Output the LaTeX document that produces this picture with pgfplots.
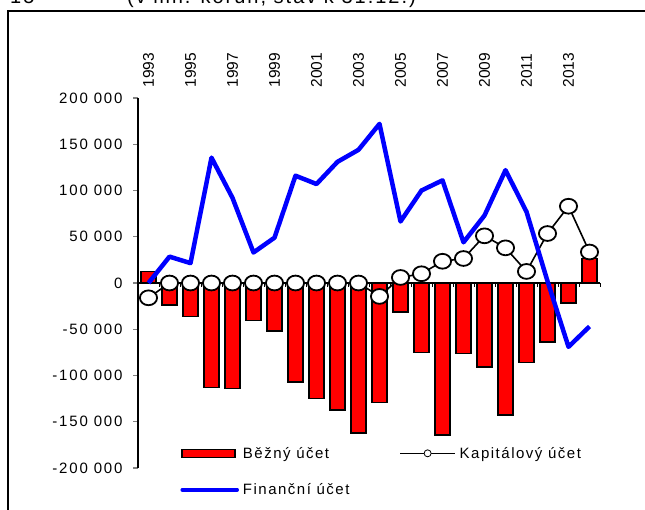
\documentclass[border=0pt]{standalone}
\usepackage{fontspec}
\setmainfont{Liberation Sans}
\newfontfamily\trackfont[LetterSpace=10]{Liberation Sans}
\newfontfamily\tickfont[LetterSpace=12]{Liberation Sans}
\usepackage{pgfplots}
\pgfplotsset{compat=1.18}
\begin{document}
\begin{tikzpicture}
\path[use as bounding box] (0,0) rectangle (645pt,509pt);
\draw[line width=1.3pt] (8pt,-10pt) -- (8pt,498pt) -- (660pt,498pt);
\node[anchor=base west, inner sep=0pt, font=\fontsize{20}{24}\trackfont] at (127pt,505pt) {(v mil. korun, stav k 31.12.)};
\node[anchor=base west, inner sep=0pt, font=\fontsize{20}{24}\trackfont] at (10pt,505pt) {15};
\begin{axis}[
  at={(138pt,41pt)}, anchor=south west,
  scale only axis, width=462pt, height=370pt,
  xmin=1992.5, xmax=2014.5, ymin=-200000, ymax=200000,
  axis y line*=left, axis x line*=top,
  x axis line style={draw=none},
  y axis line style={line width=1.2pt},
  xtick={1993,1995,1997,1999,2001,2003,2005,2007,2009,2011,2013},
  xticklabels={1993,1995,1997,1999,2001,2003,2005,2007,2009,2011,2013},
  major x tick style={draw=none},
  xticklabel style={rotate=90, anchor=west, font=\fontsize{15.5}{17}\selectfont},
  xticklabel shift=2pt,
  ytick={-200000,-150000,-100000,-50000,0,50000,100000,150000,200000},
  yticklabels={-200 000,-150 000,-100 000,-50 000,0,50 000,100 000,150 000,200 000},
  scaled y ticks=false,
  tick align=outside, major tick length=5pt,
  major y tick style={line width=1.2pt},
  yticklabel style={font=\fontsize{15}{17}\tickfont, xshift=-7pt},
  legend columns=2,
  legend style={draw=none, fill=none, at={(0.085,0.068)}, anchor=north west,
    font=\fontsize{15}{18}\trackfont, column sep=2pt, row sep=20pt,
    /tikz/every even column/.append style={column sep=48pt}},
  legend cell align=left,
  clip=false,
]
\draw[line width=1.2pt] (axis cs:1992.5,0) -- (axis cs:2014.5,0);
\pgfplotsinvokeforeach{1992.5,1993.5,...,2014.5}{
  \draw[line width=1pt] (axis cs:#1,0) -- ++(0pt,-4pt);
}
\addplot[ybar, bar width=15.5pt, fill=red, draw=black, line width=1.6pt,
  legend image code/.code={\draw[fill=red,draw=black,line width=1.5pt] (0pt,-4pt) rectangle (53pt,4pt);}]
  coordinates {
  (1993,12500) (1994,-23500) (1995,-36000) (1996,-113000) (1997,-114000)
  (1998,-40500) (1999,-52000) (2000,-107000) (2001,-125000) (2002,-137000)
  (2003,-162000) (2004,-129000) (2005,-31500) (2006,-75000) (2007,-164000)
  (2008,-76000) (2009,-91000) (2010,-143000) (2011,-86000) (2012,-64000)
  (2013,-21500) (2014,26500)};
\addlegendentry{Běžný účet}
\addplot[black, line width=1.6pt, mark=*, mark size=7.8pt,
  mark options={fill=white, draw=black, line width=1.8pt, xscale=1.1, yscale=0.95},
  legend image code/.code={\draw[black,line width=1.2pt] (0pt,0pt) -- (55pt,0pt); \draw[black,fill=white,line width=0.8pt] (27.5pt,0pt) circle (3.5pt);}]
  coordinates {
  (1993,-16000) (1994,0) (1995,0) (1996,0) (1997,0) (1998,0) (1999,0)
  (2000,0) (2001,0) (2002,0) (2003,0) (2004,-14500) (2005,6000) (2006,10000)
  (2007,23500) (2008,26500) (2009,51000) (2010,38000) (2011,12500)
  (2012,53500) (2013,83000) (2014,33500)};
\addlegendentry{Kapitálový účet}
\addplot[blue, line width=4.5pt, line join=round,
  legend image code/.code={\draw[blue,line width=3.5pt,line cap=round] (0pt,0pt) -- (55pt,0pt);}]
  coordinates {
  (1993,0) (1994,28500) (1995,21500) (1996,135500) (1997,92000)
  (1998,33000) (1999,49000) (2000,116000) (2001,107000) (2002,131000)
  (2003,144000) (2004,172000) (2005,66500) (2006,100000) (2007,111000)
  (2008,44000) (2009,73000) (2010,122000) (2011,77000) (2012,2000)
  (2013,-69000) (2014,-47000)};
\addlegendentry{Finanční účet}
\end{axis}
\end{tikzpicture}
\end{document}
